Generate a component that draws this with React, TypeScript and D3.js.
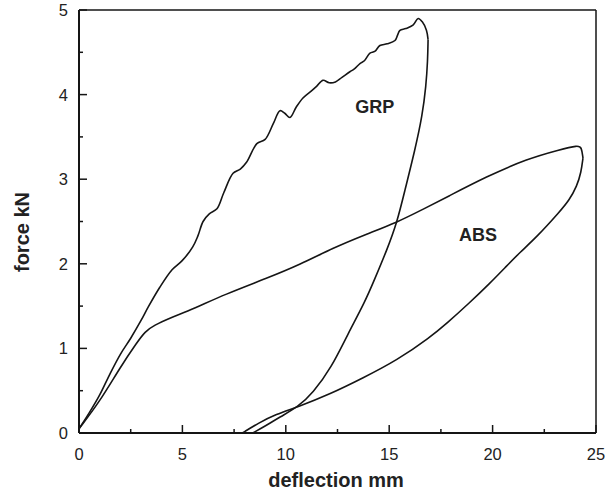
import React from "react";
import * as d3 from "d3";

type P = [number, number];

const xTicks = [0, 5, 10, 15, 20, 25];
const yTicks = [0, 1, 2, 3, 4, 5];
const xMinor = [2.5, 7.5, 12.5, 17.5, 22.5];
const yMinor = [0.5, 1.5, 2.5, 3.5, 4.5];

const grpLoad: P[] = [
  [0, 0.05], [0.5, 0.24], [1.0, 0.45], [1.5, 0.7], [2.0, 0.93], [2.5, 1.12], [3.0, 1.33],
  [3.35, 1.49], [3.9, 1.72], [4.5, 1.93], [5.0, 2.04], [5.5, 2.2], [5.75, 2.33],
  [6.0, 2.5], [6.3, 2.59], [6.67, 2.65], [7.0, 2.84], [7.45, 3.07], [7.8, 3.12], [8.1, 3.2],
  [8.6, 3.42], [9.0, 3.47], [9.4, 3.66], [9.72, 3.81], [9.95, 3.78], [10.2, 3.73], [10.5, 3.85],
  [10.83, 3.96], [11.27, 4.05], [11.5, 4.1], [11.8, 4.17], [12.1, 4.14], [12.4, 4.15], [12.7, 4.2],
  [13.1, 4.27], [13.3, 4.3], [13.6, 4.37], [13.8, 4.4], [14.07, 4.49], [14.3, 4.51], [14.55, 4.58],
  [14.9, 4.6], [15.28, 4.64], [15.4, 4.7], [15.52, 4.76], [15.8, 4.78], [16.15, 4.82], [16.4, 4.9],
  [16.6, 4.86], [16.8, 4.76], [16.88, 4.65],
];

const grpUnload: P[] = [
  [16.88, 4.65], [16.86, 4.4], [16.78, 4.1], [16.6, 3.75], [16.25, 3.35], [15.76, 2.87],
  [15.38, 2.49], [14.9, 2.17], [14.3, 1.82], [13.83, 1.55], [13.0, 1.17], [12.2, 0.77],
  [11.3, 0.47], [10.6, 0.31], [9.72, 0.19], [9.0, 0.08], [8.4, 0.0],
];

const absLoad: P[] = [
  [0, 0.05], [1.0, 0.37], [2.0, 0.78], [2.8, 1.07], [3.2, 1.2], [3.6, 1.27],
  [4.5, 1.37], [5.46, 1.46], [7.06, 1.64], [9.1, 1.83], [10.69, 1.99], [12.3, 2.19],
  [13.9, 2.35], [15.38, 2.49], [16.6, 2.64], [17.8, 2.79], [19.7, 3.03], [21.66, 3.24],
  [23.26, 3.35], [24.13, 3.4], [24.3, 3.38], [24.37, 3.25],
];

const absUnload: P[] = [
  [24.37, 3.25], [24.28, 3.08], [24.08, 2.92], [23.7, 2.75], [23.26, 2.62], [22.15, 2.32],
  [21.3, 2.13], [20.7, 1.98], [19.87, 1.77], [18.8, 1.52], [17.8, 1.3], [16.97, 1.13],
  [15.38, 0.86], [13.73, 0.65], [12.14, 0.46], [10.6, 0.31], [9.5, 0.22], [8.7, 0.12], [7.9, 0.0],
];

const labels = [
  { text: "GRP", x: 14.3, y: 3.78 },
  { text: "ABS", x: 19.3, y: 2.27 },
];

export default function App() {
  const W = 605, H = 492;
  const x = d3.scaleLinear().domain([0, 25]).range([79, 596]);
  const y = d3.scaleLinear().domain([0, 5]).range([433, 10]);
  const jag = d3.line<P>().x(d => x(d[0])).y(d => y(d[1])).curve(d3.curveCatmullRom.alpha(0.5));
  const smooth = d3.line<P>().x(d => x(d[0])).y(d => y(d[1])).curve(d3.curveBasis);
  const font = "Liberation Sans, Arial, Helvetica, sans-serif";
  const x0 = x(0), x1 = x(25), y0 = y(0), y1 = y(5);
  const ink = "#151515";

  return (
    <svg width={W} height={H} style={{ position: "absolute", left: 0, top: 0, background: "#fff" }}
      fontFamily={font}>
      <rect x={0} y={0} width={W} height={H} fill="#fff" />
      <line x1={x0} y1={y1} x2={x1} y2={y1} stroke={ink} strokeWidth={1.5} />
      <line x1={x1} y1={y1} x2={x1} y2={y0} stroke={ink} strokeWidth={1.5} />
      <line x1={x0} y1={y0} x2={x1} y2={y0} stroke={ink} strokeWidth={2} />
      <line x1={x0} y1={y0} x2={x0} y2={y1} stroke={ink} strokeWidth={2} />
      {xTicks.map(t => (
        <g key={"xt" + t}>
          <line x1={x(t)} x2={x(t)} y1={y0} y2={y0 - 8} stroke={ink} strokeWidth={1.5} />
          <text x={x(t)} y={y0 + 27} textAnchor="middle" fontSize={16.5} fill="#222">{t}</text>
        </g>
      ))}
      {xMinor.map(t => (
        <line key={"xm" + t} x1={x(t)} x2={x(t)} y1={y0} y2={y0 - 4} stroke={ink} strokeWidth={1.5} />
      ))}
      {yTicks.map(t => (
        <g key={"yt" + t}>
          <line x1={x0} x2={x0 + 8} y1={y(t)} y2={y(t)} stroke={ink} strokeWidth={1.5} />
          <text x={x0 - 11} y={y(t) + 6} textAnchor="end" fontSize={16.5} fill="#222">{t}</text>
        </g>
      ))}
      {yMinor.map(t => (
        <line key={"ym" + t} x1={x0} x2={x0 + 4} y1={y(t)} y2={y(t)} stroke={ink} strokeWidth={1.5} />
      ))}
      <path d={jag(grpLoad) || ""} fill="none" stroke={ink} strokeWidth={1.6} strokeLinejoin="round" />
      <path d={smooth(grpUnload) || ""} fill="none" stroke={ink} strokeWidth={1.6} />
      <path d={smooth(absLoad) || ""} fill="none" stroke={ink} strokeWidth={1.6} />
      <path d={smooth(absUnload) || ""} fill="none" stroke={ink} strokeWidth={1.6} />
      {labels.map(l => (
        <text key={l.text} x={x(l.x)} y={y(l.y)} textAnchor="middle" fontSize={18} fontWeight="bold" fill="#222">{l.text}</text>
      ))}
      <text x={336} y={487} textAnchor="middle" fontSize={20} fontWeight="bold" fill="#222">deflection mm</text>
      <text transform={`translate(29,232) rotate(-90)`} textAnchor="middle" fontSize={20} fontWeight="bold" fill="#222">force kN</text>
    </svg>
  );
}
